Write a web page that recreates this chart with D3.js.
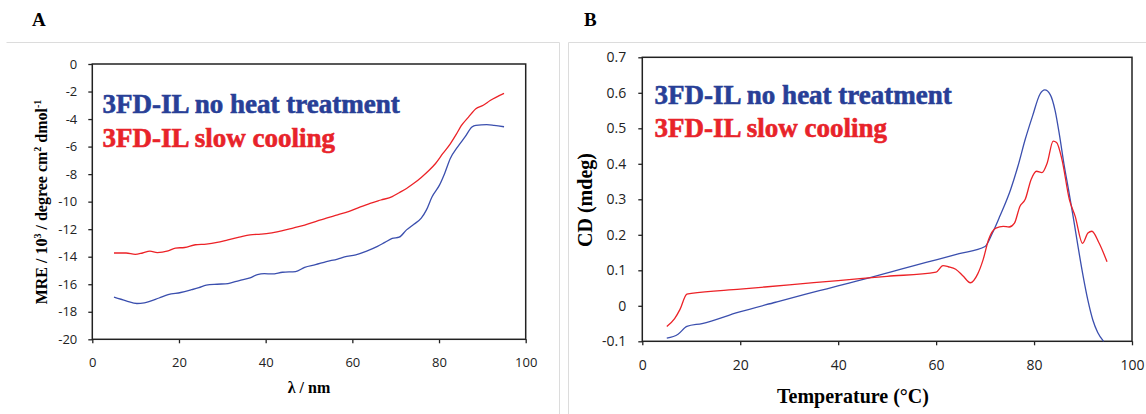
<!DOCTYPE html>
<html>
<head>
<meta charset="utf-8">
<script src="https://cdn.jsdelivr.net/npm/d3@7"></script>
<style>
  body { margin: 0; background: #fff; }
  svg { display: block; }
  .serif { font-family: "Liberation Serif", "Times New Roman", serif; font-weight: 700; }
</style>
</head>
<body>
<script>
// ---- data, panel A (MRE vs wavelength) ----
const aBlueX = [5, 7.8, 10.3, 12, 15.4, 17.5, 20.4, 22.9, 24.6, 26.3, 28.8, 31.3, 33.9, 36.4, 38.1, 39.7, 41.4, 43.9, 46.9, 49, 51.5, 54, 56.6, 58.2, 60.8, 63.3, 65.8, 67.5, 69.2, 70.8, 72.5, 74.2, 75.9, 77.1, 78.4, 80.1, 81.3, 82.6, 84.3, 86, 87.6, 88.5, 91, 92.7, 95];
const aBlueY = [-16.94, -17.2, -17.4, -17.35, -17.0, -16.75, -16.6, -16.4, -16.25, -16.07, -16.0, -15.95, -15.73, -15.54, -15.3, -15.23, -15.25, -15.13, -15.08, -14.77, -14.58, -14.36, -14.17, -14.02, -13.86, -13.59, -13.25, -12.96, -12.67, -12.58, -12.05, -11.64, -11.2, -10.6, -9.64, -8.8, -7.95, -6.87, -6.02, -5.3, -4.58, -4.46, -4.41, -4.46, -4.56];
const aRedX = [5, 7.8, 9.9, 11.6, 13.3, 15, 17.5, 19.2, 21.3, 23.8, 26.3, 28.8, 31.3, 33.9, 36.4, 38.9, 41, 43.9, 46.5, 49, 51.5, 54, 56.6, 59.1, 61.6, 64.1, 66.6, 69.2, 70.8, 72.5, 74.2, 75.9, 77.6, 79.2, 80.9, 82.6, 84, 85.1, 86.8, 88.5, 90.2, 91.8, 95];
const aRedY = [-13.73, -13.73, -13.83, -13.73, -13.6, -13.7, -13.57, -13.37, -13.33, -13.13, -13.08, -12.96, -12.77, -12.58, -12.41, -12.36, -12.29, -12.1, -11.9, -11.71, -11.45, -11.2, -10.96, -10.72, -10.41, -10.12, -9.88, -9.64, -9.35, -9.04, -8.67, -8.24, -7.76, -7.23, -6.5, -5.8, -5.1, -4.5, -3.86, -3.25, -3.0, -2.65, -2.13];
const aXTicks = [0, 20, 40, 60, 80, 100];
const aYTicks = [0, -2, -4, -6, -8, -10, -12, -14, -16, -18, -20];

// ---- data, panel B (CD vs temperature) ----
const bBlueX = [5, 7.3, 9.1, 12.2, 19.7, 27.2, 33.2, 37.7, 42.2, 46.7, 51.2, 55.7, 60.2, 64.7, 70, 71.5, 73, 75.2, 76.7, 78.2, 79.7, 81.2, 82.2, 83.3, 84.3, 85.2, 86.1, 87, 88, 89, 90, 91, 92, 93, 94.2];
const bBlueY = [-0.091, -0.08, -0.058, -0.05, -0.018, 0.01, 0.032, 0.048, 0.064, 0.08, 0.097, 0.114, 0.13, 0.147, 0.167, 0.205, 0.252, 0.327, 0.393, 0.469, 0.535, 0.596, 0.608, 0.595, 0.55, 0.48, 0.4, 0.33, 0.25, 0.165, 0.085, 0.015, -0.04, -0.075, -0.1];
const bRedX = [5, 6.6, 7.7, 9.1, 10, 20, 30, 40, 50, 60, 61.4, 62.5, 64, 65.5, 67, 68.5, 69.6, 70.7, 72.2, 73.7, 74.9, 76, 77.1, 78.2, 79.4, 80.5, 81.6, 82.7, 83.9, 84.6, 85.7, 87.2, 88.4, 89.9, 91, 91.8, 93.3, 94.9];
const bRedY = [-0.058, -0.036, -0.01, 0.033, 0.035, 0.047, 0.059, 0.071, 0.083, 0.095, 0.113, 0.11, 0.103, 0.084, 0.065, 0.09, 0.13, 0.186, 0.219, 0.224, 0.222, 0.233, 0.28, 0.3, 0.356, 0.379, 0.375, 0.403, 0.464, 0.46, 0.412, 0.3, 0.252, 0.176, 0.205, 0.21, 0.176, 0.124];
const bXTicks = [0, 20, 40, 60, 80, 100];
const bYTicks = [0.7, 0.6, 0.5, 0.4, 0.3, 0.2, 0.1, 0, -0.1];

const legendLabels = ['3FD-IL no heat treatment', '3FD-IL slow cooling'];

const W = 1146, H = 414;
const blueLine = '#3b4fae', redLine = '#ec2227';
const blueText = '#283f97', redText = '#e8232a';
const sans = '"Open Sans", "Liberation Sans", sans-serif';

const svg = d3.select('body').append('svg')
    .attr('width', W)
    .attr('height', H)
    .style('background-color', '#fff');

// light panel borders
svg.append('path')
    .attr('d', `M6.5,42.5H559.5V${H}`)
    .attr('fill', 'none').attr('stroke', '#dcdcdc').attr('stroke-width', 1);
svg.append('path')
    .attr('d', `M568.5,${H}V42.5H${W}`)
    .attr('fill', 'none').attr('stroke', '#dcdcdc').attr('stroke-width', 1);

const zip = (xs, ys) => xs.map((x, i) => [x, ys[i]]);

function serifText(sel, size) {
  return sel.attr('class', 'serif')
      .attr('font-family', '"Liberation Serif", "Times New Roman", serif')
      .attr('font-weight', 700)
      .attr('font-size', size);
}

function panel(o) {
  const x = d3.scaleLinear().domain([0, 100]).range([o.left, o.right]);
  const y = d3.scaleLinear().domain(o.yDomain).range([o.bottom, o.top]);

  serifText(svg.append('text'), 19)
      .attr('x', o.letterX).attr('y', o.letterY)
      .text(o.letter);

  const yAxis = d3.axisLeft(y).tickValues(o.yTicks).tickSize(4).tickSizeOuter(0)
      .tickPadding(o.yPad).tickFormat(o.yFmt);
  const xAxis = d3.axisBottom(x).tickValues(o.xTicks).tickSize(4).tickSizeOuter(0)
      .tickPadding(o.xPad).tickFormat(d => String(d));

  const gy = svg.append('g').attr('transform', `translate(${o.left},0)`).call(yAxis);
  const gx = svg.append('g').attr('transform', `translate(0,${o.bottom})`).call(xAxis);
  [gx, gy].forEach(g => {
    g.select('.domain').remove();
    g.selectAll('line').attr('stroke', '#222').attr('stroke-width', 1.3);
    g.selectAll('text').attr('fill', '#222')
        .style('font-family', sans).style('font-size', o.tickFont + 'px');
  });

  svg.append('rect')
      .attr('x', o.left).attr('y', o.top)
      .attr('width', o.right - o.left).attr('height', o.bottom - o.top)
      .attr('fill', 'none').attr('stroke', '#222').attr('stroke-width', 1.5);

  const line = d3.line().x(d => x(d[0])).y(d => y(d[1])).curve(d3.curveMonotoneX);
  svg.append('path').datum(zip(o.blueX, o.blueY))
      .attr('d', line).attr('fill', 'none').attr('stroke', blueLine).attr('stroke-width', 1.3);
  svg.append('path').datum(zip(o.redX, o.redY))
      .attr('d', line).attr('fill', 'none').attr('stroke', redLine).attr('stroke-width', 1.3);

  // legend text, a thin same-colour stroke gives the heavy print look
  serifText(svg.append('text'), 27)
      .attr('x', o.legX).attr('y', o.legY1)
      .attr('fill', blueText).attr('stroke', blueText).attr('stroke-width', 0.6)
      .text(legendLabels[0]);
  serifText(svg.append('text'), 27)
      .attr('x', o.legX).attr('y', o.legY2)
      .attr('fill', redText).attr('stroke', redText).attr('stroke-width', 0.6)
      .text(legendLabels[1]);

  return { x, y };
}

panel({
  letter: 'A', letterX: 32, letterY: 26,
  left: 92.3, right: 525.7, top: 64, bottom: 339.3,
  yDomain: [-20, 0], yTicks: aYTicks, xTicks: aXTicks,
  yFmt: d => String(d), yPad: 11, xPad: 14, tickFont: 13,
  blueX: aBlueX, blueY: aBlueY, redX: aRedX, redY: aRedY,
  legX: 102.5, legY1: 113, legY2: 147
});

panel({
  letter: 'B', letterX: 584, letterY: 26,
  left: 642.3, right: 1132, top: 57.3, bottom: 341.3,
  yDomain: [-0.1, 0.7], yTicks: bYTicks, xTicks: bXTicks,
  yFmt: d => (d === 0 ? '0' : d.toFixed(1)), yPad: 12, xPad: 15, tickFont: 14,
  blueX: bBlueX, blueY: bBlueY, redX: bRedX, redY: bRedY,
  legX: 654.6, legY1: 104, legY2: 137
});

// axis titles
const aY = serifText(svg.append('text'), 16)
    .attr('transform', 'translate(47,202) rotate(-90)')
    .attr('text-anchor', 'middle');
aY.append('tspan').text('MRE / 10');
aY.append('tspan').attr('dy', -6).attr('font-size', 10).text('3');
aY.append('tspan').attr('dy', 6).text(' / degree cm');
aY.append('tspan').attr('dy', -6).attr('font-size', 10).text('2');
aY.append('tspan').attr('dy', 6).text(' dmol');
aY.append('tspan').attr('dy', -6).attr('font-size', 10).text('-1');

serifText(svg.append('text'), 16)
    .attr('x', 309).attr('y', 393)
    .attr('text-anchor', 'middle')
    .text('λ / nm');

serifText(svg.append('text'), 20)
    .attr('transform', 'translate(592,200) rotate(-90)')
    .attr('text-anchor', 'middle')
    .text('CD (mdeg)');

serifText(svg.append('text'), 20)
    .attr('x', 853).attr('y', 403)
    .attr('text-anchor', 'middle')
    .text('Temperature (°C)');
</script>
</body>
</html>
